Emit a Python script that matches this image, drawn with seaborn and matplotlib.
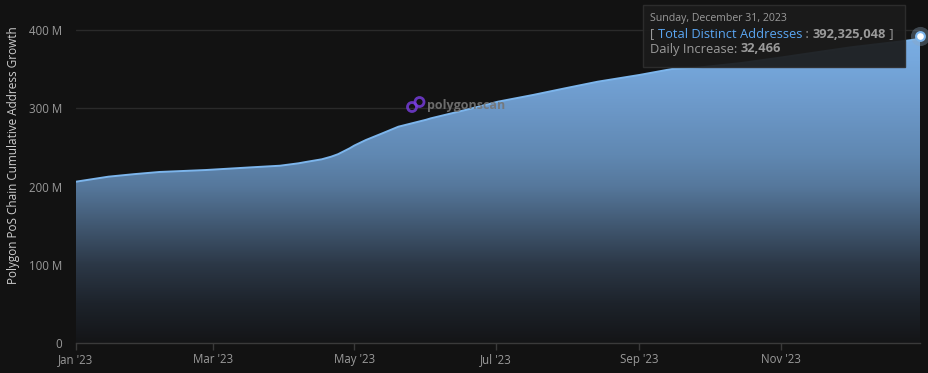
import numpy as np
import pandas as pd
import matplotlib
matplotlib.use("Agg")
import matplotlib.pyplot as plt
import matplotlib.dates as mdates
from matplotlib.colors import LinearSegmentedColormap
from matplotlib.patches import Rectangle, Ellipse
from matplotlib.text import Annotation
import seaborn as sns

# ---- data ----
dates = ["2023-01-01", "2023-01-15", "2023-01-26", "2023-02-06", "2023-02-26",
         "2023-03-18", "2023-03-30", "2023-04-07", "2023-04-10", "2023-04-17",
         "2023-04-21", "2023-04-24", "2023-04-29", "2023-05-01", "2023-05-06",
         "2023-05-08", "2023-05-13", "2023-05-20", "2023-06-01", "2023-06-03",
         "2023-06-18", "2023-07-02", "2023-07-17", "2023-07-31", "2023-08-14",
         "2023-09-01", "2023-09-15", "2023-09-26", "2023-10-15", "2023-11-01",
         "2023-12-01", "2023-12-24", "2023-12-29", "2023-12-31"]
values_m = [206.4, 212.8, 216.0, 218.8, 221.3,
            224.8, 226.8, 229.9, 231.5, 235.0,
            238.3, 241.5, 249.0, 252.5, 259.6,
            262.0, 268.0, 276.6, 285.5, 287.3,
            298.0, 308.6, 317.1, 325.7, 334.1,
            342.7, 350.3, 352.0, 358.0, 365.0,
            378.0, 386.0, 388.0, 392.325048]
y_ticks = [0, 100, 200, 300, 400]
y_tick_labels = ["0", "100 M", "200 M", "300 M", "400 M"]
x_ticks = ["2023-01-01", "2023-03-01", "2023-05-01", "2023-07-01", "2023-09-01", "2023-11-01"]
x_tick_labels = ["Jan '23", "Mar '23", "May '23", "Jul '23", "Sep '23", "Nov '23"]
y_title = "Polygon PoS Chain Cumulative Address Growth"
tip_date = "Sunday, December 31, 2023"
tip_series = "Total Distinct Addresses"
tip_value = "392,325,048"
tip_inc_label = "Daily Increase: "
tip_inc_value = "32,466"

df = pd.DataFrame({"date": pd.to_datetime(dates), "value": values_m})

BG = "#121212"
LINE = "#7cb5ec"
TXT = "#9a9a9a"

sns.set_theme(style="dark")
plt.rcParams["font.family"] = ["Open Sans", "DejaVu Sans"]

W, H = 929, 373
fig = plt.figure(figsize=(W / 100, H / 100), dpi=100, facecolor=BG)
ax_l, ax_r, ax_t, ax_b = 76, 920, 10, 343.3
ax = fig.add_axes([ax_l / W, 1 - ax_b / H, (ax_r - ax_l) / W, (ax_b - ax_t) / H])
ax.set_facecolor(BG)

ymax = (ax_b - ax_t) / 0.783
x0 = mdates.date2num(pd.Timestamp("2023-01-01"))
x1 = mdates.date2num(pd.Timestamp("2023-12-31"))

# gridlines
for yt in y_ticks[1:]:
    ax.axhline(yt, color="#2a2a2a", lw=1, zorder=0)

# gradient fill
xn = mdates.date2num(df["date"])
poly = ax.fill_between(xn, 0, df["value"], color="none", lw=0, zorder=1)
cmap = LinearSegmentedColormap.from_list("grad", [
    (0.0, "#141517"), (0.125, "#1d232b"), (0.25, "#2c3847"),
    (0.5, "#56789c"), (0.6, "#6088b2"), (0.75, "#6c98c8"),
    (0.9, "#76a8dd"), (1.0, "#7cb0e6")])
grad = np.linspace(0, 1, 256).reshape(-1, 1)
im = ax.imshow(grad, cmap=cmap, aspect="auto", origin="lower",
               extent=[x0, x1, 0, 400], zorder=1)
im.set_clip_path(poly.get_paths()[0], transform=ax.transData)

sns.lineplot(data=df, x="date", y="value", ax=ax, color=LINE, lw=1.4, zorder=3)
ax.set_xlim(x0, x1)
ax.set_ylim(0, ymax)

# last point marker with halo
last = df.iloc[-1]
ax.scatter([last["date"]], [last["value"]], s=190, color="#8fa8c0", alpha=0.35, lw=0, zorder=4, clip_on=False)
ax.scatter([last["date"]], [last["value"]], s=40, facecolor="white", edgecolor=LINE, lw=1.5, zorder=5, clip_on=False)

# axes styling
for s in ["top", "right", "left"]:
    ax.spines[s].set_visible(False)
ax.spines["bottom"].set_color("#3a3a3a")
ax.spines["bottom"].set_linewidth(1)
ax.set_yticks(y_ticks)
ax.set_yticklabels(y_tick_labels)
ax.set_xticks([mdates.date2num(pd.Timestamp(d)) for d in x_ticks])
ax.set_xticklabels(x_tick_labels)
ax.tick_params(axis="y", length=0, pad=10, labelsize=8.3, labelcolor=TXT)
ax.tick_params(axis="x", length=5, width=1, color="#3a3a3a", direction="out",
               pad=2, labelsize=8.3, labelcolor=TXT, bottom=True)
ax.set_xlabel("")
ax.set_ylabel("")
ax.grid(False)
fig.text(14 / W, 1 - 155 / H, y_title, rotation=90, color="#cfcfcf", fontsize=8.5,
         ha="center", va="center")

# watermark
for cx, cy in [(412, 107), (419.5, 102)]:
    fig.add_artist(Ellipse((cx / W, 1 - cy / H), 9 / W, 9 / H, transform=fig.transFigure,
                           fill=False, ec="#7b3fe4", lw=2.0, alpha=0.8))
fig.text(427 / W, 1 - 105 / H, "polygonscan", color="#767676", fontsize=9,
         fontweight="bold", ha="left", va="center", alpha=0.9)

# tooltip
bx0, by0, bx1, by1 = 643, 5, 905, 67
fig.add_artist(Rectangle((bx0 / W, 1 - by1 / H), (bx1 - bx0) / W, (by1 - by0) / H,
                         transform=fig.transFigure, facecolor="#1b1b1b", alpha=0.93,
                         edgecolor="#2e2e2e", lw=1, zorder=10))
fs = 9.3


def chain(prev, text, color, bold=False):
    a = Annotation(text, xy=(1, 0), xycoords=prev, va="bottom", ha="left",
                   color=color, fontsize=fs, fontweight="bold" if bold else "normal",
                   annotation_clip=False)
    a.set_zorder(11)
    fig.add_artist(a)
    return a


fig.text(650 / W, 1 - 18 / H, tip_date, color=TXT, fontsize=7.6, ha="left", va="center", zorder=11)
t1 = fig.text(650 / W, 1 - 34 / H, "[ ", color=TXT, fontsize=fs, ha="left", va="center", zorder=11)
t2 = chain(t1, tip_series, "#5aa6f2")
t3 = chain(t2, " : ", TXT)
t4 = chain(t3, tip_value, TXT, bold=True)
t5 = chain(t4, " ]", TXT)
u1 = fig.text(650 / W, 1 - 49 / H, tip_inc_label, color=TXT, fontsize=fs, ha="left", va="center", zorder=11)
chain(u1, tip_inc_value, TXT, bold=True)

fig.savefig("out.png", dpi=100, facecolor=BG)
